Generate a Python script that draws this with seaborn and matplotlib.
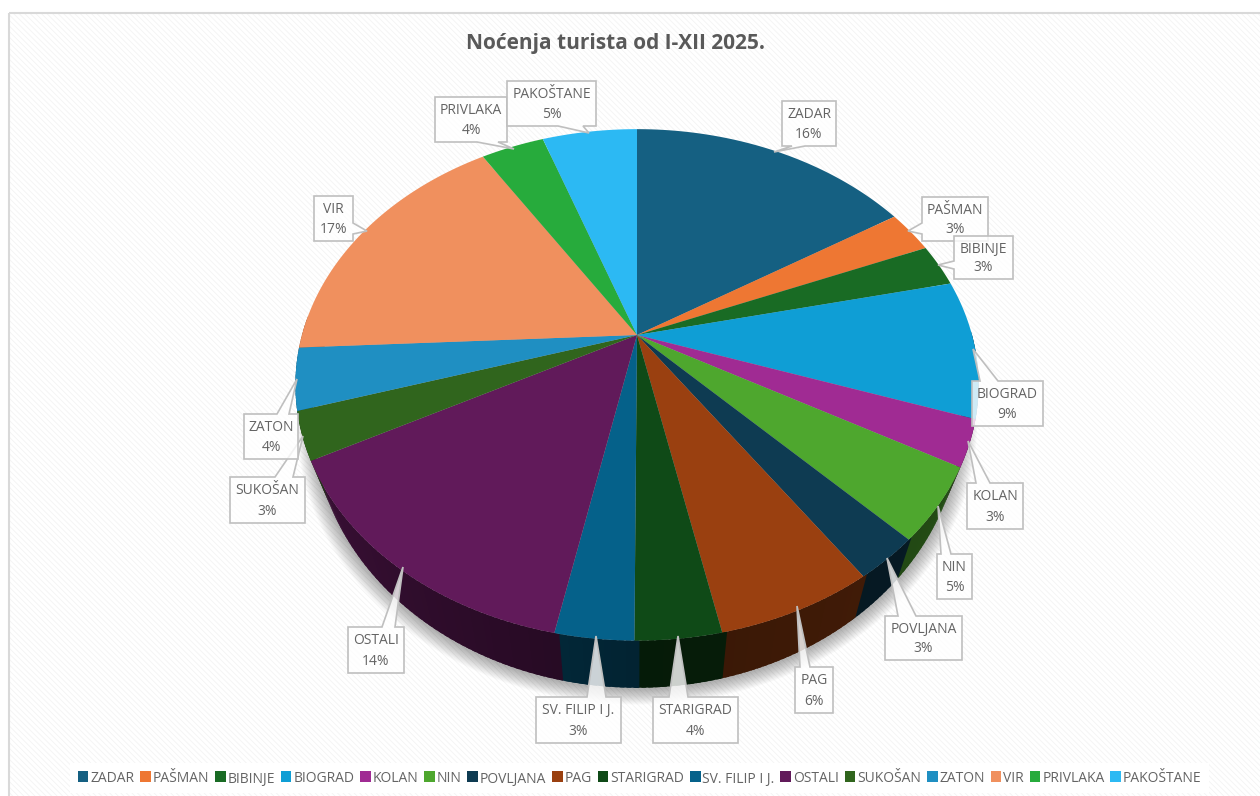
import numpy as np
import matplotlib
matplotlib.use("Agg")
import matplotlib.pyplot as plt
from matplotlib.patches import Rectangle, Polygon
from matplotlib.path import Path
from matplotlib.colors import to_rgb
import seaborn as sns

# ---- data ----
places = ["ZADAR", "PAŠMAN", "BIBINJE", "BIOGRAD", "KOLAN", "NIN", "POVLJANA", "PAG",
          "STARIGRAD", "SV. FILIP I J.", "OSTALI", "SUKOŠAN", "ZATON", "VIR", "PRIVLAKA", "PAKOŠTANE"]
shares = [16.1, 2.7, 2.7, 8.7, 2.9, 4.6, 2.7, 6.3, 3.4, 3.1, 14.1, 3.0, 3.9, 16.8, 3.6, 5.4]
pct_labels = ["16%", "3%", "3%", "9%", "3%", "5%", "3%", "6%", "4%", "3%", "14%", "3%", "4%", "17%", "4%", "5%"]
colors = ["#156082", "#EE7733", "#196B24", "#0F9ED5", "#A02B93", "#4EA72E", "#0E3B52", "#9A4010",
          "#0F4A17", "#05618A", "#611A5A", "#30651D", "#1F8FC2", "#F0905E", "#27AB3C", "#2CB9F3"]
title = "Noćenja turista od I-XII 2025."

# callout layout: box (x0, y0, x1, y1), tip (x, y), edge, base start, base end
callouts = [
    ((782, 101, 836, 146), (774, 152), "b", 792, 805),
    ((922, 197, 988, 241), (908, 231), "l", 223, 234),
    ((954, 236, 1013, 279), (938, 265), "l", 261, 269),
    ((972, 381, 1043, 426), (973, 349), "t", 980, 998),
    ((967, 483, 1023, 529), (968, 441), "t", 976, 990),
    ((937, 554, 972, 599), (938, 506), "t", 941, 951),
    ((885, 616, 962, 660), (887, 558), "t", 898, 916),
    ((795, 667, 833, 713), (797, 606), "t", 800, 810),
    ((653, 697, 738, 743), (678, 636), "t", 669, 688),
    ((536, 697, 621, 743), (596, 636), "t", 587, 606),
    ((348, 627, 404, 673), (403, 567), "t", 382, 395),
    ((230, 477, 305, 523), (303, 436), "t", 275, 293),
    ((244, 414, 298, 459), (297, 379), "t", 277, 289),
    ((314, 196, 353, 241), (367, 231), "r", 223, 234),
    ((435, 97, 507, 142), (514, 149), "b", 477, 498),
    ((507, 81, 596, 126), (589, 133), "b", 558, 583),
]

# ---- perspective of the pie ----
CX, CY, K = 637.0, 335.0, 0.195
TOP_B, TOP_A = 335.0, 246.0
BOT_B, BOT_A, BOT_CY = 318.0, 259.0, 366.0


def project(theta_deg, b, a, cy):
    t = np.radians(theta_deg)
    x, y = np.cos(t), np.sin(t)
    w = 1 + K * y
    return CX + b * x / w, cy - a * y / w


def wall_factor(theta):
    return np.interp(theta, [180, 205, 270, 330, 360], [0.66, 0.60, 0.36, 0.46, 0.46])


sns.set_theme(style="white")
plt.rcParams["font.family"] = ["Open Sans", "DejaVu Sans"]
plt.rcParams["hatch.linewidth"] = 0.6
TEXT = "#646464"

fig = plt.figure(figsize=(12.6, 7.96), dpi=100, facecolor="white")
ax = fig.add_axes([0, 0, 1, 1])

wedges, _ = ax.pie(shares, colors=colors, startangle=90, counterclock=False, labels=None, radius=1)
ax.set_aspect("auto")
ax.set_xlim(0, 1260)
ax.set_ylim(796, 0)
ax.axis("off")

# chart area
ax.add_patch(Rectangle((8.5, 12.5), 1300, 900, facecolor="white", edgecolor="#F3F3F3",
                       hatch="\\\\\\\\\\\\", lw=0, zorder=0))
ax.add_patch(Rectangle((8.5, 12.5), 1300, 900, facecolor="none", edgecolor="#D9D9D9", lw=1.5, zorder=0.5))

# soft shadow below the body
all_t = np.linspace(0, 360, 361)
for i in range(14):
    grow = 1 + 0.0035 * (14 - i)
    sx, sy = project(all_t, BOT_B * grow, BOT_A * grow, BOT_CY + 1)
    ax.fill(sx, sy, color="black", alpha=0.022, lw=0, zorder=1)

# side walls, then the top face reshaped from the pie's own wedges
for w, col in zip(wedges, colors):
    t1, t2 = w.theta1 % 360, w.theta2 % 360
    if t2 <= t1:
        t2 += 360
    ts = np.arange(t1, t2 + 1.0, 1.0)
    ts = np.append(ts[ts < t2], t2)
    base = np.array(to_rgb(col))
    for a, b in zip(ts[:-1], ts[1:]):
        mid = (a + b) / 2 % 360
        if not 175 < mid < 360:
            continue
        seg = np.linspace(a, b + 0.7, 3)
        tx, ty = project(seg, TOP_B, TOP_A, CY)
        bx, by = project(seg, BOT_B, BOT_A, BOT_CY)
        shade = tuple(base * wall_factor(mid))
        ax.fill(np.r_[tx, bx[::-1]], np.r_[ty, by[::-1]], color=shade, lw=0, zorder=2)
    arc = np.linspace(t1, t2, 120)
    px, py = project(arc, TOP_B, TOP_A, CY)
    verts = np.vstack([[CX, CY], np.c_[px, py], [CX, CY]])
    codes = [Path.MOVETO] + [Path.LINETO] * (len(verts) - 2) + [Path.CLOSEPOLY]
    w._path = Path(verts, codes)
    w.set_zorder(3)
    w.set_edgecolor("none")


# callouts
def callout(box, tip, edge, s, e):
    x0, y0, x1, y1 = box
    if edge == "t":
        pts = [(x0, y0), (s, y0), tip, (e, y0), (x1, y0), (x1, y1), (x0, y1)]
    elif edge == "b":
        pts = [(x0, y0), (x1, y0), (x1, y1), (e, y1), tip, (s, y1), (x0, y1)]
    elif edge == "l":
        pts = [(x0, y0), (x1, y0), (x1, y1), (x0, y1), (x0, e), tip, (x0, s)]
    else:
        pts = [(x0, y0), (x1, y0), (x1, s), tip, (x1, e), (x1, y1), (x0, y1)]
    return pts


for i, (name, pct, spec) in enumerate(zip(places, pct_labels, callouts)):
    box, tip, edge, s, e = spec
    ax.add_patch(Polygon(callout(box, tip, edge, s, e), closed=True, facecolor=(1, 1, 1, 0.8),
                         edgecolor="#BFBFBF", lw=1.2, zorder=5 + i * 0.01))
    xc = (box[0] + box[2]) / 2
    ax.text(xc, (box[1] * 0.72 + box[3] * 0.28) + 1, name, ha="center", va="center", fontsize=10,
            color=TEXT, zorder=6 + i * 0.01)
    ax.text(xc, (box[1] * 0.28 + box[3] * 0.72) + 1, pct, ha="center", va="center", fontsize=10,
            color=TEXT, zorder=6 + i * 0.01)

ax.text(616, 43, title, ha="center", va="center", fontsize=15, fontweight="bold", color="#595959", zorder=6)

# legend
handles = [Rectangle((0, 0), 1, 1, facecolor=c, edgecolor="none") for c in colors]
leg = ax.legend(handles, places, ncol=16, loc="center", bbox_to_anchor=(639.5 / 1260, 1 - 778 / 796),
                frameon=True, fancybox=False, framealpha=1, facecolor="white", edgecolor="none",
                fontsize=10, labelcolor=TEXT, handlelength=0.78, handleheight=0.78, handletextpad=0.13,
                columnspacing=0.41, borderpad=0.55, borderaxespad=0)
leg.set_zorder(7)
for t in leg.get_texts():
    if "J" in t.get_text():
        t.set_y(-1)

fig.savefig("out.png", dpi=100)
